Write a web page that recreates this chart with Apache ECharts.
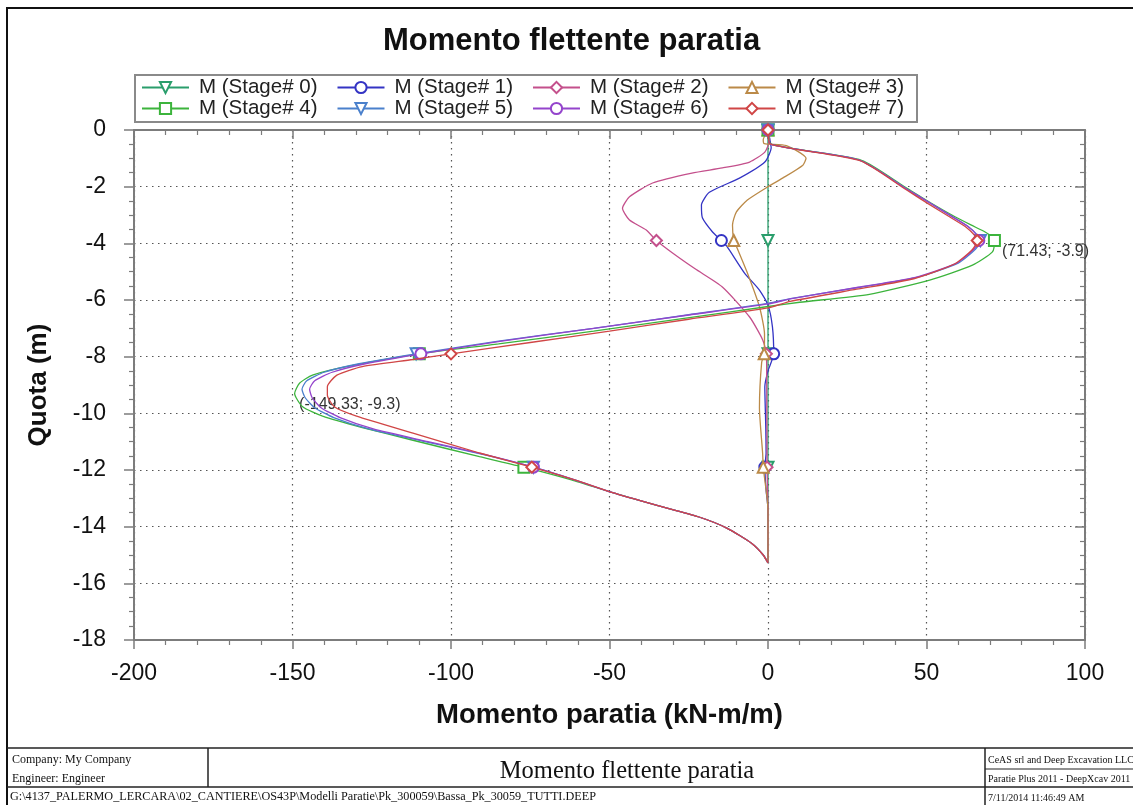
<!DOCTYPE html>
<html>
<head>
<meta charset="utf-8">
<title>Momento flettente paratia</title>
<script src="https://cdn.jsdelivr.net/npm/echarts@6/dist/echarts.min.js"></script>
<style>
  html, body { margin: 0; padding: 0; background: #ffffff; }
  #chart { width: 1133px; height: 805px; }
</style>
</head>
<body>
<div id="chart"></div>
<script>
// Bending moment along the wall for each construction stage: [moment kN-m/m, elevation m]
const stageNames = [
  'M (Stage# 0)', 'M (Stage# 1)', 'M (Stage# 2)', 'M (Stage# 3)',
  'M (Stage# 4)', 'M (Stage# 5)', 'M (Stage# 6)', 'M (Stage# 7)'
];

const stage0 = [[0, 0], [0, -3.9], [0, -7.9], [0, -11.9], [0, -15.28]];

const stage1 = [
  [0, 0], [0.5, -0.28], [1, -0.63], [-1, -1.13], [-9, -1.7], [-18.5, -2.2], [-21, -2.65],
  [-20.7, -3.1], [-17.5, -3.6], [-14.7, -3.9], [-13, -4.1], [-7.4, -5.05], [-2.7, -5.65],
  [0, -6.18], [1.4, -6.95], [1.8, -7.9], [0, -8.5], [-1, -9.06], [-0.7, -10.5], [-0.6, -11.4],
  [-1, -11.9], [-0.6, -12.7], [0, -13.4], [0, -15.28]
];

const stage2 = [
  [0, 0], [0.5, -0.35], [-1, -0.78], [-5.8, -1.13], [-14.4, -1.34], [-24, -1.52], [-36.4, -1.87],
  [-43.7, -2.36], [-45.9, -2.76], [-43.7, -3.18], [-38.4, -3.53], [-35.2, -3.9], [-30, -4.35],
  [-23, -4.9], [-14.4, -5.54], [-5.8, -6.6], [-1.7, -7.4], [-0.5, -7.9], [-0.4, -9],
  [-0.3, -11.9], [0, -13.4], [0, -15.28]
];

const stage3 = [
  [0, 0], [-1.5, -0.35], [-1.2, -0.48], [5.8, -0.55], [12, -1.0], [11, -1.24], [4.6, -1.7],
  [0, -2.0], [-6.5, -2.47], [-10, -2.9], [-11.2, -3.35], [-10.8, -3.9], [-10, -4.1],
  [-6.5, -5.05], [-2.7, -6.24], [-1.1, -7.2], [-1.2, -7.9], [-2, -8.2], [-2.7, -9.8],
  [-1.7, -11.4], [-1.5, -11.9], [-0.5, -12.8], [0, -13.4], [0, -15.28]
];

const stage4 = [
  [0, 0], [1, -0.5], [29.5, -1.07], [44, -2.07], [51, -2.55], [58, -3.0], [64, -3.35],
  [68.5, -3.6], [71, -3.8], [71.43, -3.9], [70.8, -4.3], [64.5, -4.77], [51, -5.3], [32, -5.8],
  [10, -6.08], [0, -6.23], [-24.8, -6.62], [-55, -7.1], [-85, -7.55], [-110, -7.9],
  [-133, -8.35], [-143.7, -8.65], [-147.8, -8.94], [-149.33, -9.3], [-146.8, -9.77],
  [-140.5, -10.1], [-128, -10.5], [-112, -10.95], [-91, -11.53], [-77, -11.9], [-62, -12.35],
  [-49, -12.8], [-35, -13.25], [-22, -13.65], [-13, -14.05], [-5, -14.6], [-1.5, -15.0], [0, -15.28]
];

const stage5 = [
  [0, 0], [0.8, -0.5], [29, -1.07], [44, -2.1], [51, -2.57], [58, -3.05], [63, -3.4],
  [66, -3.7], [67, -3.9], [65.5, -4.2], [60, -4.7], [47, -5.2], [29, -5.55], [8, -5.93],
  [0, -6.12], [-25, -6.52], [-55, -7.0], [-85, -7.45], [-111, -7.9], [-129, -8.25],
  [-140, -8.55], [-145.5, -8.85], [-147, -9.15], [-146, -9.45], [-143, -9.8], [-137, -10.15],
  [-126, -10.55], [-109, -10.98], [-90, -11.45], [-74, -11.9], [-61, -12.35], [-49, -12.8],
  [-35, -13.25], [-22, -13.65], [-13, -14.05], [-5, -14.6], [-1.5, -15.0], [0, -15.28]
];

const stage6 = [
  [0, 0], [0.8, -0.5], [29, -1.07], [44, -2.1], [51, -2.57], [58, -3.05], [63, -3.4],
  [65.8, -3.7], [66.5, -3.9], [65, -4.2], [59.5, -4.7], [46.5, -5.2], [28.5, -5.55], [7.5, -5.95],
  [0, -6.14], [-25, -6.53], [-55, -7.0], [-84, -7.45], [-109.5, -7.9], [-127, -8.25],
  [-137.5, -8.55], [-143, -8.85], [-144.6, -9.15], [-143.8, -9.45], [-141, -9.8], [-135, -10.15],
  [-124.5, -10.55], [-108, -10.98], [-89.5, -11.45], [-74, -11.9], [-61, -12.35], [-49, -12.8],
  [-35, -13.25], [-22, -13.65], [-13, -14.05], [-5, -14.6], [-1.5, -15.0], [0, -15.28]
];

const stage7 = [
  [0, 0], [0.8, -0.5], [29, -1.08], [43.5, -2.1], [50.5, -2.6], [57.5, -3.08], [62.5, -3.43],
  [65.2, -3.72], [66, -3.9], [64.5, -4.22], [59, -4.72], [46, -5.25], [28, -5.62], [7, -6.05],
  [0, -6.28], [-25, -6.68], [-50, -7.1], [-75, -7.5], [-100, -7.9], [-112, -8.1],
  [-128, -8.35], [-136, -8.65], [-139, -9.06], [-139, -9.35], [-136.8, -9.77], [-129.8, -10.1],
  [-112, -10.7], [-91, -11.4], [-74.5, -11.9], [-61, -12.35], [-49, -12.8], [-35, -13.25],
  [-22, -13.65], [-13, -14.05], [-5, -14.6], [-1.5, -15.0], [0, -15.28]
];

// Extreme values of stage 4 that are called out on the plot
const peakPositive = [71.43, -3.9];
const peakNegative = [-149.33, -9.3];

// Elevations carrying a marker symbol
const markerDepths = [0, -3.9, -7.9, -11.9];

const xTicks = { min: -200, max: 100, step: 50 };
const yTicks = { min: -18, max: 0, step: 2 };

const stageData = [stage0, stage1, stage2, stage3, stage4, stage5, stage6, stage7];
const stageColors = ['#2a9e6c', '#3434c4', '#c4508c', '#bb8a48', '#3cb43c', '#4a80cc', '#9444cc', '#d04646'];
const stageSymbols = ['emptyTriangle', 'emptyCircle', 'emptyDiamond', 'emptyTriangle',
                      'emptyRect', 'emptyTriangle', 'emptyCircle', 'emptyDiamond'];
const stageRotate = [180, 0, 0, 0, 0, 180, 0, 0];

const SANS = '"Liberation Sans", Arial, Helvetica, sans-serif';
const SERIF = '"Liberation Serif", "Times New Roman", serif';
const AXIS_GREY = '#7c7c7c';

const fmtPair = (v) => '(' + v[0] + '; ' + v[1] + ')';

const series = stageData.map((pts, i) => {
  const s = {
    name: stageNames[i],
    type: 'line',
    xAxisIndex: 0,
    yAxisIndex: 0,
    data: pts,
    smooth: 0.2,
    symbol: stageSymbols[i],
    symbolRotate: stageRotate[i],
    symbolSize: (v) => (markerDepths.indexOf(v[1]) >= 0 ? 11 : 0),
    showSymbol: true,
    clip: true,
    color: stageColors[i],
    lineStyle: { color: stageColors[i], width: 1.3 },
    itemStyle: { color: stageColors[i], borderWidth: 1.3 },
    emphasis: { disabled: true },
    z: 3 + i
  };
  if (i === 4) {
    s.markPoint = {
      symbol: 'circle',
      symbolSize: 1,
      itemStyle: { color: 'rgba(0,0,0,0)' },
      label: {
        show: true,
        formatter: (p) => fmtPair(p.data.coord),
        color: '#333',
        fontFamily: SANS,
        fontSize: 16,
        align: 'left',
        verticalAlign: 'top'
      },
      data: [
        { coord: peakPositive, label: { position: [8, 4] } },
        { coord: peakNegative, label: { position: [5, 4] } }
      ]
    };
  }
  return s;
});

const legendBase = {
  orient: 'horizontal',
  left: 141,
  itemWidth: 47,
  itemHeight: 14,
  itemGap: 19,
  padding: 0,
  selectedMode: false,
  textStyle: { fontFamily: SANS, fontSize: 20.5, color: '#222', padding: [0, 0, 0, 5] }
};

const option = {
  animation: false,
  backgroundColor: '#ffffff',
  title: {
    text: 'Momento flettente paratia',
    left: 383,
    top: 26,
    padding: 0,
    textStyle: { fontFamily: SANS, fontSize: 31, fontWeight: 'bold', color: '#111' }
  },
  legend: [
    Object.assign({}, legendBase, { top: 77, data: stageNames.slice(0, 4) }),
    Object.assign({}, legendBase, { top: 98, data: stageNames.slice(4) })
  ],
  grid: { left: 134, right: 48, top: 130, bottom: 165, containLabel: false },
  xAxis: [
    {
      type: 'value', position: 'bottom',
      min: xTicks.min, max: xTicks.max, interval: xTicks.step,
      name: 'Momento paratia (kN-m/m)', nameLocation: 'middle', nameGap: 61,
      nameTextStyle: { fontFamily: SANS, fontSize: 27.5, fontWeight: 'bold', color: '#111' },
      axisLine: { show: true, onZero: false, lineStyle: { color: AXIS_GREY, width: 2 } },
      axisTick: { show: true, inside: false, length: 9, lineStyle: { color: AXIS_GREY, width: 1.5 } },
      minorTick: { show: true, splitNumber: 5, length: 5, lineStyle: { color: AXIS_GREY, width: 1.2 } },
      axisLabel: { fontFamily: SANS, fontSize: 23, color: '#111', margin: 22 },
      splitLine: { show: true, lineStyle: { color: '#555', width: 1.2, type: [1.5, 4.5] } }
    },
    {
      type: 'value', position: 'top',
      min: xTicks.min, max: xTicks.max, interval: xTicks.step,
      axisLine: { show: true, onZero: false, lineStyle: { color: AXIS_GREY, width: 2 } },
      axisTick: { show: true, inside: true, length: 9, lineStyle: { color: AXIS_GREY, width: 1.5 } },
      minorTick: { show: true, splitNumber: 5, length: 5, lineStyle: { color: AXIS_GREY, width: 1.2 } },
      axisLabel: { show: false },
      splitLine: { show: false }
    }
  ],
  yAxis: [
    {
      type: 'value', position: 'left',
      min: yTicks.min, max: yTicks.max, interval: yTicks.step,
      name: 'Quota (m)', nameLocation: 'middle', nameGap: 82, nameRotate: 90,
      nameTextStyle: { fontFamily: SANS, fontSize: 26, fontWeight: 'bold', color: '#111' },
      axisLine: { show: true, onZero: false, lineStyle: { color: AXIS_GREY, width: 2 } },
      axisTick: { show: true, inside: false, length: 10, lineStyle: { color: AXIS_GREY, width: 1.5 } },
      minorTick: { show: true, splitNumber: 4, length: 5, lineStyle: { color: AXIS_GREY, width: 1.2 } },
      axisLabel: { fontFamily: SANS, fontSize: 23, color: '#111', margin: 28 },
      splitLine: { show: true, lineStyle: { color: '#555', width: 1.2, type: [1.5, 4.5] } }
    },
    {
      type: 'value', position: 'right',
      min: yTicks.min, max: yTicks.max, interval: yTicks.step,
      axisLine: { show: true, onZero: false, lineStyle: { color: AXIS_GREY, width: 2 } },
      axisTick: { show: true, inside: true, length: 10, lineStyle: { color: AXIS_GREY, width: 1.5 } },
      minorTick: { show: true, splitNumber: 4, length: 5, lineStyle: { color: AXIS_GREY, width: 1.2 } },
      axisLabel: { show: false },
      splitLine: { show: false }
    }
  ],
  series: series,
  graphic: [
    // page frame
    { type: 'rect', silent: true, shape: { x: 7, y: 8, width: 1150, height: 830 },
      style: { fill: 'none', stroke: '#111', lineWidth: 2 } },
    // legend frame
    { type: 'rect', silent: true, shape: { x: 135, y: 75, width: 782, height: 47 },
      style: { fill: 'none', stroke: '#8a8a8a', lineWidth: 2 } },
    // title block
    { type: 'line', silent: true, shape: { x1: 7, y1: 748, x2: 1140, y2: 748 }, style: { stroke: '#222', lineWidth: 1.5 } },
    { type: 'line', silent: true, shape: { x1: 7, y1: 787, x2: 1140, y2: 787 }, style: { stroke: '#222', lineWidth: 1.5 } },
    { type: 'line', silent: true, shape: { x1: 208, y1: 748, x2: 208, y2: 787 }, style: { stroke: '#222', lineWidth: 1.5 } },
    { type: 'line', silent: true, shape: { x1: 985, y1: 748, x2: 985, y2: 810 }, style: { stroke: '#222', lineWidth: 1.5 } },
    { type: 'line', silent: true, shape: { x1: 985, y1: 769, x2: 1140, y2: 769 }, style: { stroke: '#222', lineWidth: 1.2 } },
    { type: 'text', silent: true, x: 12, y: 760,
      style: { text: 'Company: My Company', font: '12px ' + SERIF, fill: '#111', verticalAlign: 'middle' } },
    { type: 'text', silent: true, x: 12, y: 779,
      style: { text: 'Engineer: Engineer', font: '12px ' + SERIF, fill: '#111', verticalAlign: 'middle' } },
    { type: 'text', silent: true, x: 627, y: 772,
      style: { text: 'Momento flettente paratia', font: '24.5px ' + SERIF, fill: '#111', align: 'center', verticalAlign: 'middle' } },
    { type: 'text', silent: true, x: 988, y: 760,
      style: { text: 'CeAS srl and Deep Excavation LLC', font: '10px ' + SERIF, fill: '#111', verticalAlign: 'middle' } },
    { type: 'text', silent: true, x: 988, y: 779,
      style: { text: 'Paratie Plus 2011 - DeepXcav 2011', font: '10px ' + SERIF, fill: '#111', verticalAlign: 'middle' } },
    { type: 'text', silent: true, x: 988, y: 798,
      style: { text: '7/11/2014 11:46:49 AM', font: '10px ' + SERIF, fill: '#111', verticalAlign: 'middle' } },
    { type: 'text', silent: true, x: 10, y: 797,
      style: { text: 'G:\\4137_PALERMO_LERCARA\\02_CANTIERE\\OS43P\\Modelli Paratie\\Pk_300059\\Bassa_Pk_30059_TUTTI.DEEP',
               font: '12.2px ' + SERIF, fill: '#111', verticalAlign: 'middle' } }
  ]
};

const chart = echarts.init(document.getElementById('chart'), null, { renderer: 'canvas' });
chart.setOption(option);
</script>
</body>
</html>
